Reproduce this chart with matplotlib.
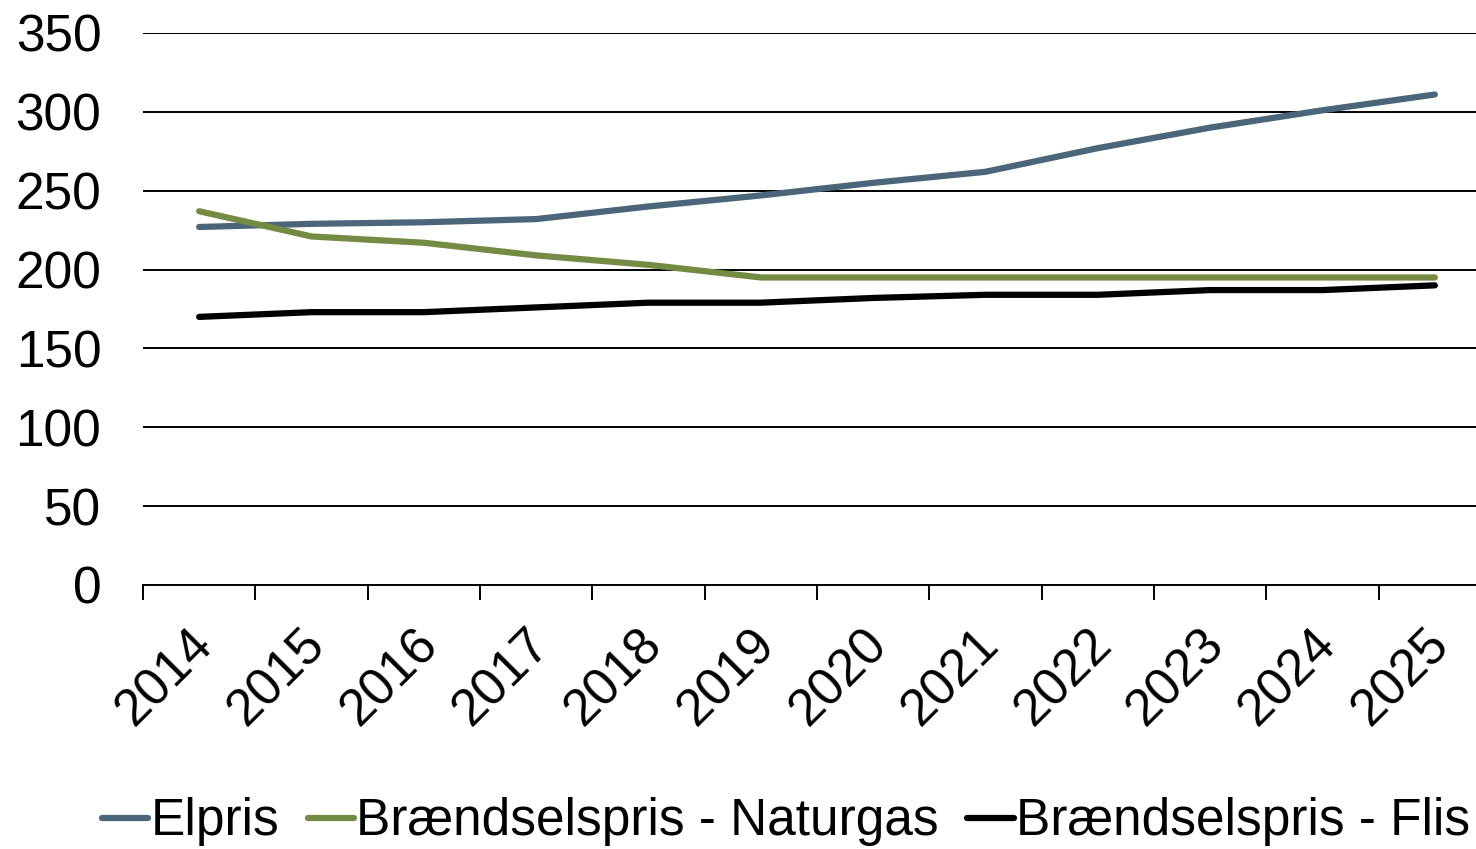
import matplotlib
matplotlib.use('Agg')
import matplotlib.pyplot as plt
import matplotlib.transforms as mtransforms
import numpy as np

plt.rcParams['font.family'] = ['Liberation Sans', 'DejaVu Sans']

years = ['2014', '2015', '2016', '2017', '2018', '2019',
         '2020', '2021', '2022', '2023', '2024', '2025']
elpris = [227, 229, 230, 232, 240, 247, 255, 262, 277, 290, 301, 311]
naturgas = [237, 221, 217, 209, 203, 195, 195, 195, 195, 195, 195, 195]
flis = [170, 173, 173, 176, 179, 179, 182, 184, 184, 187, 187, 190]

W, H = 1476, 849
fig = plt.figure(figsize=(W / 100, H / 100), dpi=100)
ax = fig.add_axes([143 / W, 1 - 585 / H, (1491 - 143) / W, (585 - 33) / H])

x = np.arange(len(years))
ax.plot(x, elpris, color='#4b6679', lw=4.5, solid_capstyle='round', label='Elpris')
ax.plot(x, naturgas, color='#758a42', lw=4.5, solid_capstyle='round',
        label='Brændselspris - Naturgas')
ax.plot(x, flis, color='#000000', lw=4.5, solid_capstyle='round',
        label='Brændselspris - Flis')

ax.set_xlim(-0.5, 11.5)
ax.set_ylim(0, 350)
ax.set_yticks(range(0, 351, 50))
ax.yaxis.grid(True, color='black', lw=1.4)
ax.set_axisbelow(True)

ax.set_xticks(x)
ax.set_xticklabels(years, rotation=45, ha='right', va='top', rotation_mode='anchor')
ax.set_xticks(np.arange(-0.5, 12, 1), minor=True)
ax.tick_params(axis='x', which='major', length=0, pad=30, labelsize=37)
ax.tick_params(axis='x', which='minor', length=11, width=1.4, color='black')
ax.tick_params(axis='y', length=0, pad=30, labelsize=37)

# nudge rotated year labels a bit left and up
shift = mtransforms.ScaledTranslation(-8 / 72, 5 / 72, fig.dpi_scale_trans)
for lbl in ax.get_xticklabels():
    lbl.set_transform(lbl.get_transform() + shift)

for s in ['top', 'right', 'left']:
    ax.spines[s].set_visible(False)
ax.spines['bottom'].set_linewidth(1.4)

fig.legend(loc='center', bbox_to_anchor=(786 / W, 1 - 822 / H), ncol=3,
           frameon=False, fontsize=37, handlelength=0.9, handletextpad=0.05,
           columnspacing=0.55, borderaxespad=0)

fig.savefig('out.png', dpi=100)
